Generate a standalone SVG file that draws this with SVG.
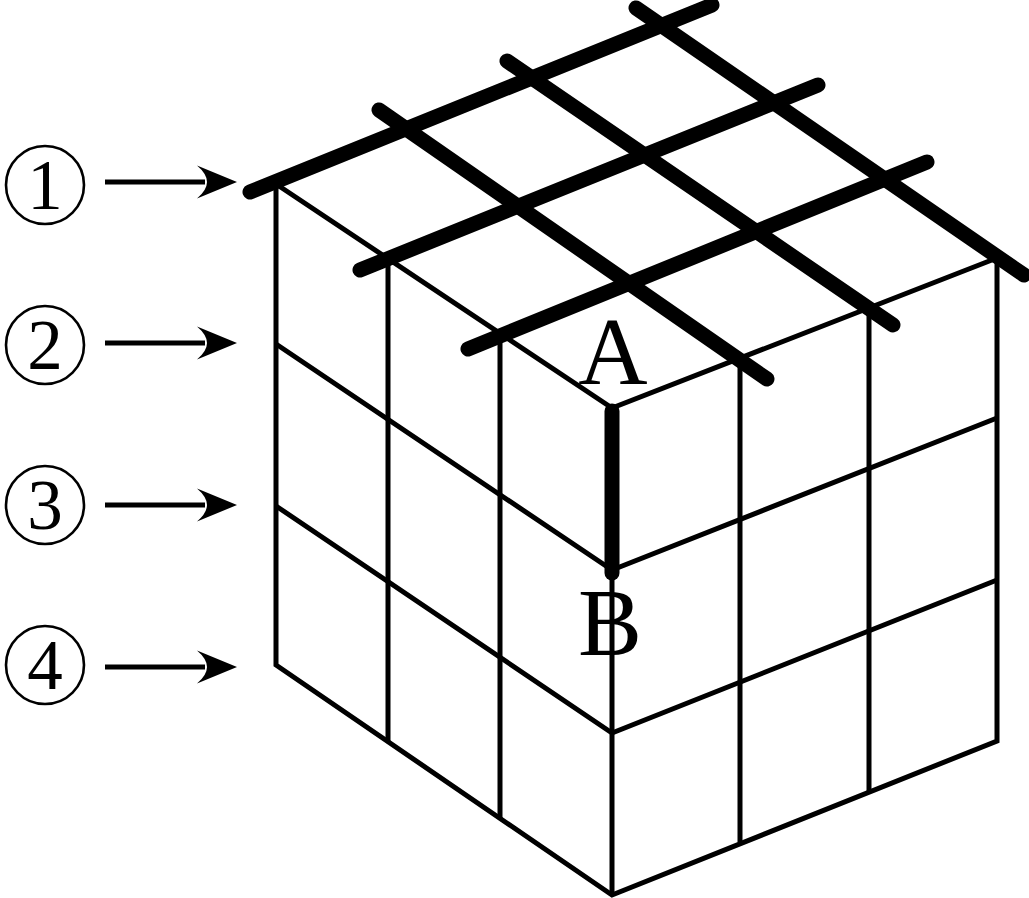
<svg xmlns="http://www.w3.org/2000/svg" width="1029" height="898" viewBox="0 0 1029 898">
<style>
.thin{stroke:#000;stroke-width:5;fill:none;stroke-linecap:butt;stroke-linejoin:miter}
.thick{stroke:#000;stroke-width:15;fill:none;stroke-linecap:round}
.arrow{stroke:#000;stroke-width:5;fill:none}
.ring{stroke:#000;stroke-width:2.6;fill:#fff}
.t{font-family:"Liberation Serif","Times New Roman",serif;fill:#000;text-anchor:middle}
.d{font-size:71px}
.L{font-size:96px}
</style>
<defs>
<marker id="head" markerUnits="userSpaceOnUse" markerWidth="41" markerHeight="34" refX="8" refY="17" orient="auto" viewBox="0 0 41 34">
<path d="M0 0.5 L40 17 L0 33.5 Q10 25 10 17 Q10 9 0 0.5Z" fill="#000"/>
</marker>
</defs>
<rect width="1029" height="898" fill="#fff"/>
<g id="connectors">
<g id="grid">
<path class="thin" d="M276 185V665L612 895L997 741V258"/>
<path class="thin" d="M276 184L612 408L997 258"/>
<path class="thin" d="M388 262V741M500 337V818M612 408V895M740 358V842M869 308V791"/>
<path class="thin" d="M276 344L612 570L997 418M276 506L612 733L997 580"/>
</g>
<g id="thick-lines">
<path class="thick" d="M250 192L712 5M360 270L818 85M468 349L927 162"/>
<path class="thick" d="M636 8L1024 275M507 61L893 325M379 110L767 379"/>
<path class="thick" d="M612 411V573"/>
</g>
<g id="arrows">
<path class="arrow" marker-end="url(#head)" d="M105 182H205"/>
<path class="arrow" marker-end="url(#head)" d="M105 343H205"/>
<path class="arrow" marker-end="url(#head)" d="M105 505H205"/>
<path class="arrow" marker-end="url(#head)" d="M105 667H205"/>
</g>
</g>
<g id="n1"><circle class="ring" cx="45" cy="185" r="39"/><text class="t d" x="45" y="209">1</text></g>
<g id="n2"><circle class="ring" cx="45" cy="345" r="39"/><text class="t d" x="45" y="369">2</text></g>
<g id="n3"><circle class="ring" cx="45" cy="505" r="39"/><text class="t d" x="45" y="529">3</text></g>
<g id="n4"><circle class="ring" cx="45" cy="665" r="39"/><text class="t d" x="45" y="689">4</text></g>
<g id="A"><text class="t L" x="613" y="384">A</text></g>
<g id="B"><text class="t L" x="610" y="655">B</text></g>
</svg>
